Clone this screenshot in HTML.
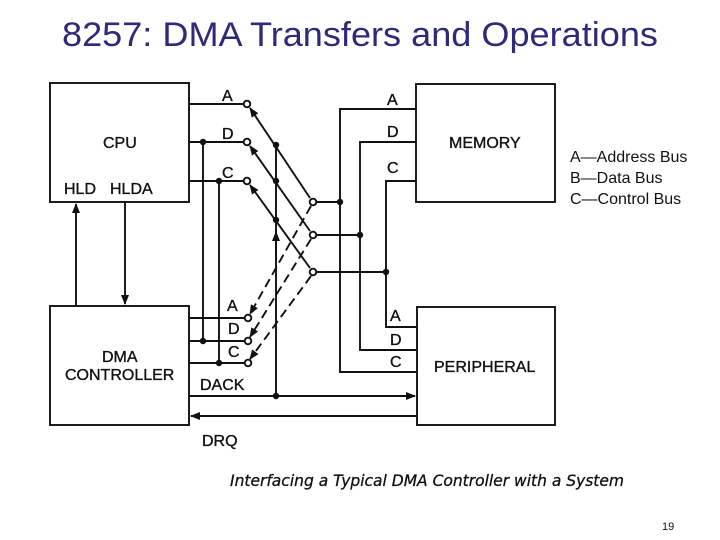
<!DOCTYPE html>
<html><head><meta charset="utf-8"><style>
html,body{margin:0;padding:0;background:#fff;}
svg{display:block;}
.t{font-family:"Liberation Sans",sans-serif;font-size:16px;fill:#111;stroke:#111;stroke-width:0.35;}
</style></head><body>
<svg width="720" height="540" viewBox="0 0 720 540" xmlns="http://www.w3.org/2000/svg">
<defs>
<marker id="ah" markerWidth="10" markerHeight="8" refX="9" refY="4" orient="auto" markerUnits="userSpaceOnUse">
<path d="M0,0 L10,4 L0,8 z" fill="#111"/></marker>
</defs>
<text x="62" y="46" font-family="Liberation Sans, sans-serif" font-size="34" fill="#2e2a78" textLength="596" lengthAdjust="spacingAndGlyphs">8257: DMA Transfers and Operations</text>
<g stroke="#111" stroke-width="1.9" fill="none">
<rect x="50" y="83" width="139" height="119"/>
<rect x="416" y="84" width="139" height="118"/>
<rect x="50" y="306" width="139" height="119"/>
<rect x="417" y="307" width="138" height="118"/>
<line x1="189" y1="104" x2="244" y2="104"/>
<line x1="189" y1="142" x2="244" y2="142"/>
<line x1="189" y1="181" x2="244" y2="181"/>
<line x1="189" y1="318" x2="245" y2="318"/>
<line x1="189" y1="341" x2="245" y2="341"/>
<line x1="189" y1="363" x2="245" y2="363"/>
<line x1="203" y1="142" x2="203" y2="341"/>
<line x1="219" y1="181" x2="219" y2="363"/>
<line x1="310" y1="198" x2="250" y2="108" marker-end="url(#ah)"/>
<line x1="310" y1="231" x2="250" y2="146" marker-end="url(#ah)"/>
<line x1="310" y1="268" x2="250" y2="185" marker-end="url(#ah)"/>
<g stroke-dasharray="9,5">
<line x1="311" y1="206" x2="250" y2="314" marker-end="url(#ah)"/>
<line x1="311" y1="239" x2="250" y2="337" marker-end="url(#ah)"/>
<line x1="311" y1="276" x2="250" y2="359" marker-end="url(#ah)"/>
</g>
<line x1="276" y1="396" x2="276" y2="145"/>
<line x1="276" y1="260" x2="276" y2="232" marker-end="url(#ah)"/>
<line x1="316" y1="202" x2="340" y2="202"/>
<line x1="316" y1="235" x2="360" y2="235"/>
<line x1="316" y1="272" x2="386" y2="272"/>
<polyline points="416,109 340,109 340,372 417,372"/>
<polyline points="416,142 360,142 360,350 417,350"/>
<polyline points="416,181 386,181 386,327 417,327"/>
<line x1="189" y1="396" x2="415" y2="396" marker-end="url(#ah)"/>
<line x1="417" y1="416" x2="191" y2="416" marker-end="url(#ah)"/>
<line x1="76" y1="306" x2="76" y2="204" marker-end="url(#ah)"/>
<line x1="125" y1="202" x2="125" y2="304" marker-end="url(#ah)"/>
</g>
<g fill="#fff" stroke="#111" stroke-width="1.9">
<circle cx="247" cy="104" r="3.3"/><circle cx="247" cy="142" r="3.3"/><circle cx="247" cy="181" r="3.3"/>
<circle cx="248" cy="318" r="3.3"/><circle cx="248" cy="341" r="3.3"/><circle cx="248" cy="363" r="3.3"/>
<circle cx="313" cy="202" r="3.3"/><circle cx="313" cy="235" r="3.3"/><circle cx="313" cy="272" r="3.3"/>
</g>
<g fill="#111">
<circle cx="203" cy="142" r="3.2"/><circle cx="219" cy="181" r="3.2"/>
<circle cx="203" cy="341" r="3.2"/><circle cx="219" cy="363" r="3.2"/>
<circle cx="276" cy="145" r="3.2"/><circle cx="276" cy="181" r="3.2"/><circle cx="276" cy="220" r="3.2"/>
<circle cx="276" cy="396" r="3.2"/>
<circle cx="340" cy="202" r="3.2"/><circle cx="360" cy="235" r="3.2"/><circle cx="386" cy="272" r="3.2"/>
</g>
<g class="t">
<text x="103" y="148">CPU</text>
<text x="64" y="194">HLD</text><text x="110" y="194">HLDA</text>
<text x="222" y="101">A</text><text x="222" y="139">D</text><text x="222" y="178">C</text>
<text x="387" y="105">A</text><text x="387" y="137">D</text><text x="387" y="173">C</text>
<text x="449" y="148">MEMORY</text>
<text x="227" y="311">A</text><text x="228" y="334">D</text><text x="228" y="357">C</text>
<text x="102" y="362">DMA</text><text x="65" y="380">CONTROLLER</text>
<text x="200" y="390">DACK</text><text x="202" y="446">DRQ</text>
<text x="390" y="321">A</text><text x="390" y="345">D</text><text x="390" y="367">C</text>
<text x="434" y="372">PERIPHERAL</text>
</g>
<g font-family="Liberation Sans, sans-serif" font-size="16" fill="#111">
<text x="570" y="162">A—Address Bus</text>
<text x="570" y="183">B—Data Bus</text>
<text x="570" y="204">C—Control Bus</text>
</g>
<text x="230" y="486" font-family="DejaVu Sans, sans-serif" font-style="italic" font-size="16" fill="#111" stroke="#111" stroke-width="0.3" textLength="394" lengthAdjust="spacingAndGlyphs">Interfacing a Typical DMA Controller with a System</text>
<text x="662" y="530" font-family="Liberation Sans, sans-serif" font-size="11" fill="#111">19</text>
</svg>
</body></html>
